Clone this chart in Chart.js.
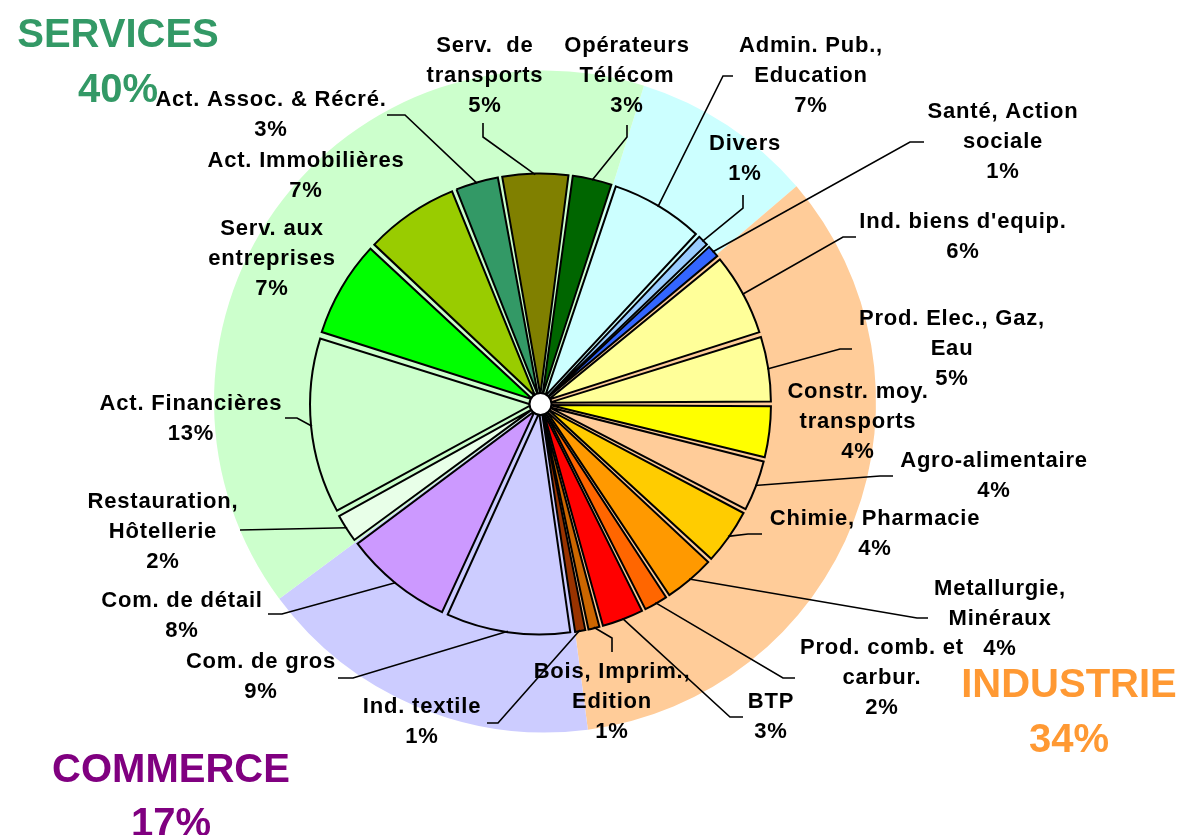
<!DOCTYPE html>
<html><head><meta charset="utf-8">
<script src="https://cdn.jsdelivr.net/npm/chart.js@4/dist/chart.umd.min.js"></script>
<style>
html,body{margin:0;padding:0;background:#fff;}
#wrap{position:relative;width:1180px;height:835px;overflow:hidden;background:#fff;}
#wrap canvas{position:absolute;left:0;top:0;}
</style></head><body>
<div id="wrap"><canvas id="bg" width="1180" height="835"></canvas><canvas id="fg" width="1180" height="835"></canvas></div>
<script>
// ---- Sector groups (background pie), clockwise from the cyan group ----
const groupNames  = ["", "INDUSTRIE", "COMMERCE", "SERVICES"];
const groupValues = [8.9, 34.2, 16.9, 40.0];

// ---- Activities (foreground exploded pie), clockwise from "Admin. Pub." ----
const categories = [
  ["Admin. Pub.,", "Education"],
  ["Divers"],
  ["Santé, Action", "sociale"],
  ["Ind. biens d'equip."],
  ["Prod. Elec., Gaz,", "Eau"],
  ["Constr. moy.", "transports"],
  ["Agro-alimentaire"],
  ["Chimie, Pharmacie"],
  ["Metallurgie,", "Minéraux"],
  ["Prod. comb. et", "carbur."],
  ["BTP"],
  ["Bois, Imprim.,", "Edition"],
  ["Ind. textile"],
  ["Com. de gros"],
  ["Com. de détail"],
  ["Restauration,", "Hôtellerie"],
  ["Act. Financières"],
  ["Serv. aux", "entreprises"],
  ["Act. Immobilières"],
  ["Act. Assoc. & Récré."],
  ["Serv.  de", "transports"],
  ["Opérateurs", "Télécom"]
];
const shares = [6.86, 0.97, 1.08, 6.11, 4.86, 3.86, 3.83, 4.19, 3.83, 1.89, 3.17,
                1.00, 0.94, 9.11, 8.00, 2.22, 12.81, 7.11, 6.94, 3.26, 4.92, 3.01];

// ---- styles ----
const groupColors = ["#CCFFFF", "#FFCC99", "#CCCCFF", "#CCFFCC"];
const groupTitleColors = [null, "#FF9933", "#800080", "#339966"];
const sliceColors = ["#CCFFFF", "#99CCFF", "#3366FF", "#FFFF99", "#FFFF99", "#FFFF00",
  "#FFCC99", "#FFCC00", "#FF9900", "#FF6600", "#FF0000", "#CC6600", "#993300",
  "#CCCCFF", "#CC99FF", "#E8FFE8", "#CCFFCC", "#00FF00", "#99CC00", "#339966",
  "#808000", "#006600"];

// ---- layout (label positions: center x, first baseline y, leader from label side) ----
const labelLayout = [
  {x: 811, y: 52,  lead: [[733, 76], [723, 76]]},
  {x: 745, y: 150, lead: [[743, 195], [743, 208]]},
  {x: 1003, y: 118, lead: [[924, 142], [910, 142]]},
  {x: 963, y: 228, lead: [[856, 237], [843, 237]]},
  {x: 952, y: 325, lead: [[852, 349], [840, 349]]},
  {x: 858, y: 398, lead: null},
  {x: 994, y: 467, lead: [[893, 476], [880, 476]]},
  {x: 875, y: 525, lead: [[762, 534], [748, 534]]},
  {x: 1000, y: 595, lead: [[928, 618], [917, 618]]},
  {x: 882, y: 654, lead: [[795, 678], [783, 678]]},
  {x: 771, y: 708, lead: [[743, 717], [730, 717]]},
  {x: 612, y: 678, lead: [[612, 652], [612, 638]]},
  {x: 422, y: 713, lead: [[487, 723], [498, 723]]},
  {x: 261, y: 668, lead: [[338, 678], [353, 678]]},
  {x: 182, y: 607, lead: [[268, 614], [282, 614]]},
  {x: 163, y: 508, lead: [[240, 530]]},
  {x: 191, y: 410, lead: [[285, 418], [297, 418]]},
  {x: 272, y: 235, lead: null},
  {x: 306, y: 167, lead: null},
  {x: 271, y: 106, lead: [[387, 115], [405, 115]]},
  {x: 485, y: 52,  lead: [[483, 123], [483, 137]]},
  {x: 627, y: 52,  lead: [[627, 125], [627, 137]]}
];
const titleLayout = [null, {x: 1069, y: 697, y2: 752}, {x: 171, y: 782, y2: 836}, {x: 118, y: 47, y2: 102}];

const LABEL_FONT = 'bold 22px "Liberation Sans", Arial, sans-serif';
const TITLE_FONT = 'bold 40px "Liberation Sans", Arial, sans-serif';
const LINE_H = 30;
const EXPLODE = 36; // chart.js offset (translation = offset/4)

// ---- background pie ----
new Chart(document.getElementById('bg'), {
  type: 'pie',
  data: {labels: groupNames, datasets: [{data: groupValues, backgroundColor: groupColors, borderWidth: 0}]},
  options: {
    responsive: false, animation: false, events: [],
    rotation: 17.4, radius: 331,
    layout: {padding: {left: 0, right: 90, top: 0, bottom: 32}},
    plugins: {legend: {display: false}, tooltip: {enabled: false}}
  }
});

// keep every exploded slice at the same radius (like a classic exploded pie)
const explodeFix = {
  id: 'explodeFix',
  beforeDatasetsDraw(chart) {
    const meta = chart.getDatasetMeta(0);
    const base = meta.controller.outerRadius;
    meta.data.forEach(arc => {
      const off = (arc.options.offset || 0) / 4;
      const fix = 1 - Math.sin(Math.min(Math.PI, arc.circumference || 0));
      arc.outerRadius = base - off * fix;
    });
  },
  afterDatasetsDraw(chart) {
    const meta = chart.getDatasetMeta(0);
    const a = meta.data[0];
    const ctx = chart.ctx;
    ctx.save();
    ctx.beginPath();
    ctx.arc(a.x, a.y, 11, 0, Math.PI * 2);
    ctx.fillStyle = '#fff';
    ctx.fill();
    ctx.lineWidth = 2;
    ctx.strokeStyle = '#000';
    ctx.stroke();
    ctx.restore();
  }
};

const labelsPlugin = {
  id: 'labelsPlugin',
  afterDraw(chart) {
    const ctx = chart.ctx;
    const meta = chart.getDatasetMeta(0);
    const base = meta.controller.outerRadius;
    ctx.save();
    // leader lines
    ctx.strokeStyle = '#000';
    ctx.lineWidth = 1.6;
    meta.data.forEach((arc, i) => {
      const L = labelLayout[i];
      if (!L.lead) return;
      const off = (arc.options.offset || 0) / 4;
      const mid = (arc.startAngle + arc.endAngle) / 2;
      const r = base + off - 1;
      const ax = arc.x + Math.cos(mid) * r, ay = arc.y + Math.sin(mid) * r;
      ctx.beginPath();
      ctx.moveTo(L.lead[0][0], L.lead[0][1]);
      for (let k = 1; k < L.lead.length; k++) ctx.lineTo(L.lead[k][0], L.lead[k][1]);
      ctx.lineTo(ax, ay);
      ctx.stroke();
    });
    // texts
    ctx.fillStyle = '#000';
    ctx.font = LABEL_FONT;
    ctx.textAlign = 'center';
    ctx.textBaseline = 'alphabetic';
    try { ctx.letterSpacing = '0.8px'; } catch (e) {}
    categories.forEach((lines, i) => {
      const L = labelLayout[i];
      const all = lines.concat([Math.round(shares[i]) + '%']);
      all.forEach((t, k) => ctx.fillText(t, L.x, L.y + k * LINE_H));
    });
    // group titles
    try { ctx.letterSpacing = '0px'; } catch (e) {}
    ctx.font = TITLE_FONT;
    groupNames.forEach((name, i) => {
      const T = titleLayout[i];
      if (!T) return;
      ctx.fillStyle = groupTitleColors[i];
      ctx.fillText(name, T.x, T.y);
      ctx.fillText(Math.round(groupValues[i]) + '%', T.x, T.y2);
    });
    ctx.restore();
  }
};

new Chart(document.getElementById('fg'), {
  type: 'pie',
  data: {
    labels: categories.map(c => c.join(' ')),
    datasets: [{
      data: shares, backgroundColor: sliceColors, borderColor: '#000',
      borderWidth: 2, borderJoinStyle: 'miter', offset: EXPLODE
    }]
  },
  options: {
    responsive: false, animation: false, events: [],
    rotation: 18.4, radius: 221.5,
    layout: {padding: {left: 0, right: 99, top: 0, bottom: 27}},
    plugins: {legend: {display: false}, tooltip: {enabled: false}}
  },
  plugins: [explodeFix, labelsPlugin]
});
</script>
</body></html>
